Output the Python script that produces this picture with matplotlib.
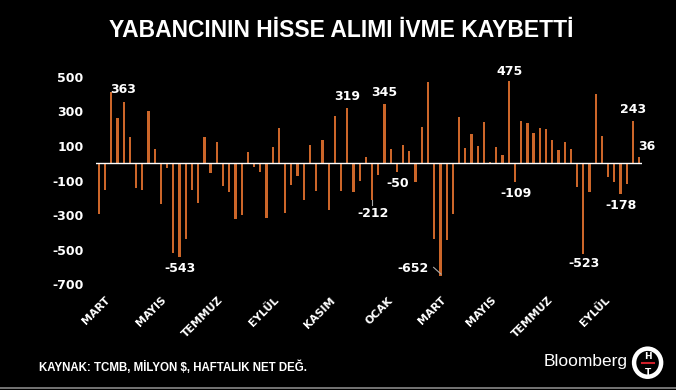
import matplotlib.pyplot as plt
import matplotlib.patches as patches

BAR_COLOR = "#cc6629"
TEXT_COLOR = "white"

# weekly net foreign equity flows, million $
flows = [
    -293, -153, 415, 260, 357, 153, -141, -153, 302, 81,
    -234, -27, -521, -543, -438, -156, -228, 152, -59, 124,
    -129, -169, -320, -298, 64, -20, -49, -318, 95, 205,
    -289, -128, -72, -215, 107, -163, 134, -269, 273, -159,
    319, -169, -101, 37, -212, -65, 345, 85, -50, 106,
    73, -106, 212, 473, -437, -652, -443, -292, 266, 88,
    171, 100, 240, 9, 92, 47, 475, -109, 243, 232,
    176, 203, 200, 134, 77, 122, 85, -140, -523, -165,
    402, 157, -82, -108, -178, -119, 243, 36,
]

month_labels = ["MART", "MAYIS", "TEMMUZ", "EYLÜL", "KASIM",
                "OCAK", "MART", "MAYIS", "TEMMUZ", "EYLÜL"]
month_positions = [1.0, 10.0, 19.1, 28.1, 37.3, 46.5, 55.0, 63.1, 72.3, 81.4]

y_ticks = [500, 300, 100, -100, -300, -500, -700]

# (bar index, label text, label x, label y, horizontal alignment)
callouts = [
    (2, "363", 1.9, 425, "left"),
    (13, "-543", 13.1, -607, "center"),
    (40, "319", 40.0, 384, "center"),
    (44, "-212", 44.1, -288, "center"),
    (46, "345", 46.0, 410, "center"),
    (48, "-50", 48.1, -117, "center"),
    (55, "-652", 53.1, -612, "right"),
    (66, "475", 66.1, 532, "center"),
    (67, "-109", 67.1, -175, "center"),
    (78, "-523", 78.1, -583, "center"),
    (84, "-178", 84.1, -247, "center"),
    (86, "243", 86.0, 309, "center"),
    (87, "36", 86.8, 97, "left"),
]


def setup_figure():
    fig = plt.figure(figsize=(6.76, 3.90), dpi=100, facecolor="black")
    ax = fig.add_axes([0.142, 0.2626, 0.8077, 0.5666], facecolor="black")
    ax.set_xlim(-0.45, len(flows) - 0.55)
    ax.set_ylim(-720, 560)
    for spine in ax.spines.values():
        spine.set_visible(False)
    return fig, ax


def draw_bars(ax):
    ax.bar(range(len(flows)), flows, width=0.36, color=BAR_COLOR, zorder=2)
    ax.axhline(0, color="white", linewidth=1.0, zorder=3)


def draw_axes_text(ax):
    ax.set_xticks([])
    ax.set_yticks(y_ticks)
    ax.set_yticklabels([str(v) for v in y_ticks])
    ax.tick_params(axis="y", length=0, pad=9, labelcolor=TEXT_COLOR, labelsize=9)
    for label in ax.get_yticklabels():
        label.set_fontweight("bold")
    for pos, name in zip(month_positions, month_labels):
        ax.text(pos, -0.034, name, transform=ax.get_xaxis_transform(),
                rotation=45, rotation_mode="anchor", ha="right", va="top",
                color=TEXT_COLOR, fontsize=7.8, fontweight="bold")


def draw_callouts(ax):
    for idx, text, tx, ty, align in callouts:
        ax.text(tx, ty, text, ha=align, va="center", color=TEXT_COLOR,
                fontsize=9, fontweight="bold", zorder=4)
    # small leader lines
    ax.plot([53.9, 55.1], [-603, -642], color="#aaaaaa", linewidth=0.8, zorder=4)
    ax.plot([44, 44], [-212, -240], color="#aaaaaa", linewidth=0.8, zorder=4)


def draw_decorations(fig):
    fig.text(0.505, 0.923, "YABANCININ HİSSE ALIMI İVME KAYBETTİ",
             ha="center", va="center", color=TEXT_COLOR, fontsize=16.5,
             fontweight="bold", family="Liberation Sans")
    fig.text(0.057, 0.058, "KAYNAK: TCMB, MİLYON $, HAFTALIK NET DEĞ.",
             ha="left", va="center", color=TEXT_COLOR, fontsize=8.3,
             fontweight="bold", family="Liberation Sans")
    fig.text(0.928, 0.072, "Bloomberg", ha="right", va="center",
             color=TEXT_COLOR, fontsize=12.5, family="Liberation Sans")
    logo = patches.Ellipse((0.958, 0.07), 0.040, 0.072, transform=fig.transFigure,
                           facecolor="black", edgecolor="white", linewidth=3.2)
    fig.add_artist(logo)
    fig.text(0.958, 0.087, "H", ha="center", va="center", color=TEXT_COLOR,
             fontsize=6.5, fontweight="bold")
    fig.text(0.958, 0.046, "T", ha="center", va="center", color=TEXT_COLOR,
             fontsize=6.5, fontweight="bold")
    fig.add_artist(plt.Line2D([0.949, 0.967], [0.068, 0.068], transform=fig.transFigure,
                              color="#d0202a", linewidth=1.5))
    fig.add_artist(plt.Line2D([0, 1], [0.004, 0.004], transform=fig.transFigure,
                              color="#888888", linewidth=1.2))


fig, ax = setup_figure()
draw_bars(ax)
draw_axes_text(ax)
draw_callouts(ax)
draw_decorations(fig)
fig.savefig("out.png", dpi=100, facecolor="black")
